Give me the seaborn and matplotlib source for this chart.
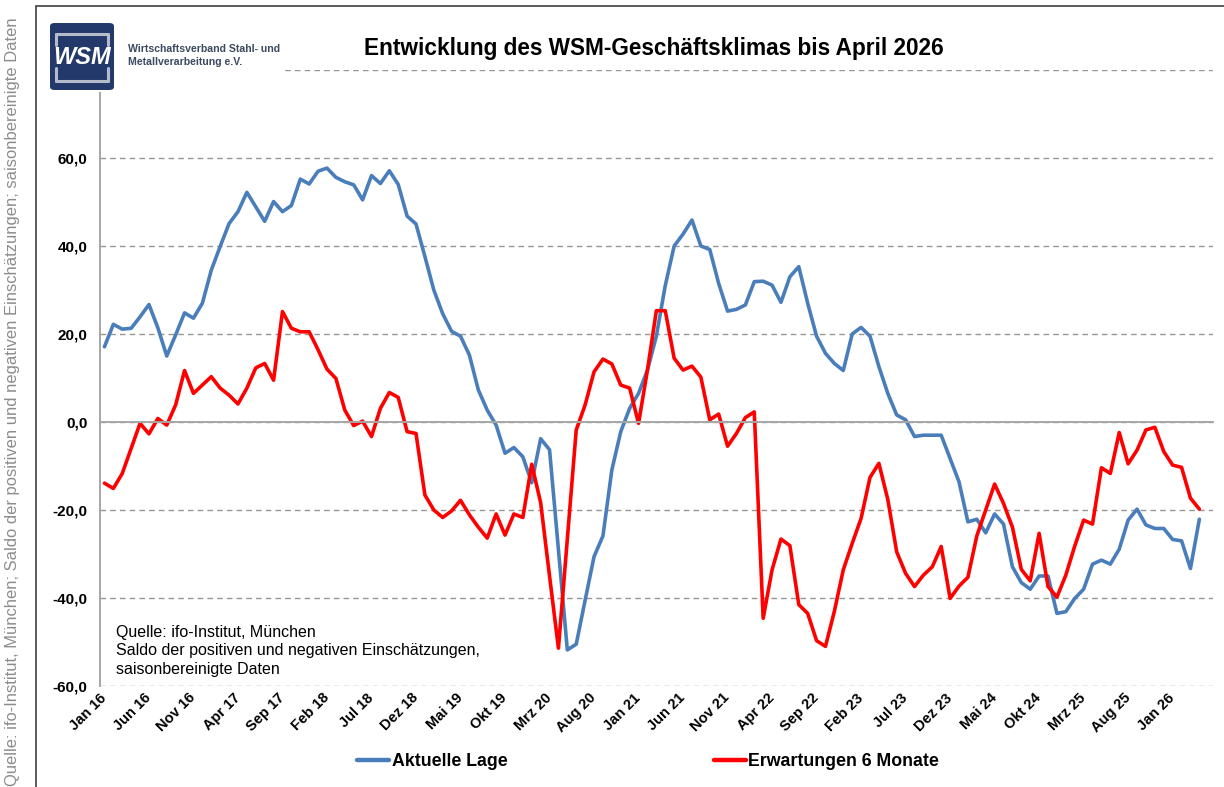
import numpy as np
import pandas as pd
import matplotlib
matplotlib.use("Agg")
import matplotlib.pyplot as plt
import seaborn as sns
from matplotlib import font_manager
from matplotlib.lines import Line2D
from matplotlib.patches import Rectangle, FancyBboxPatch
from matplotlib.ticker import FixedLocator, FuncFormatter

# Monatswerte Jan 2016 .. Apr 2026 (Saldo, saisonbereinigt)
aktuelle_lage = [
    17.1, 22.2, 21.1, 21.3, 23.9, 26.7, 21.4, 15.0, 19.8, 24.8, 23.6, 27.0,
    34.5, 39.9, 45.1, 47.8, 52.2, 48.9, 45.6, 50.1, 47.8, 49.2, 55.2, 54.1,
    57.0, 57.7, 55.6, 54.6, 53.9, 50.5, 56.0, 54.2, 57.1, 54.0, 46.8, 45.0,
    37.6, 30.0, 24.6, 20.6, 19.5, 15.2, 7.3, 2.7, -0.7, -7.1, -5.8, -7.9,
    -13.8, -3.8, -6.3, -29.0, -51.8, -50.5, -40.5, -30.6, -25.9, -10.9, -2.2, 3.1,
    6.5, 11.8, 19.5, 31.0, 40.0, 42.7, 45.9, 40.0, 39.2, 31.5, 25.2, 25.6,
    26.6, 31.9, 32.0, 31.1, 27.2, 33.0, 35.3, 27.0, 19.5, 15.6, 13.3, 11.7,
    20.0, 21.5, 19.5, 12.6, 6.5, 1.6, 0.5, -3.3, -3.0, -3.0, -3.0, -8.3,
    -13.6, -22.7, -22.1, -25.2, -20.9, -23.2, -32.9, -36.5, -38.0, -35.0, -35.0, -43.5,
    -43.1, -40.1, -38.0, -32.3, -31.4, -32.3, -28.9, -22.3, -19.8, -23.4, -24.2, -24.2,
    -26.7, -27.0, -33.3, -22.1,
]
erwartungen = [
    -13.9, -15.1, -11.7, -6.0, -0.3, -2.7, 0.8, -0.7, 3.9, 11.7, 6.5, 8.4,
    10.3, 7.7, 6.1, 4.1, 7.7, 12.3, 13.3, 9.5, 25.1, 21.3, 20.5, 20.5,
    16.4, 12.0, 9.9, 2.7, -0.8, 0.2, -3.3, 3.1, 6.7, 5.6, -2.2, -2.6,
    -16.6, -20.0, -21.7, -20.2, -17.8, -21.1, -23.9, -26.4, -20.9, -25.7, -20.9, -21.7,
    -9.6, -18.3, -35.0, -51.4, -26.6, -1.8, 3.9, 11.4, 14.3, 13.2, 8.4, 7.7,
    -0.3, 11.8, 25.3, 25.3, 14.5, 11.8, 12.7, 10.2, 0.5, 1.8, -5.5, -2.6,
    1.0, 2.3, -44.6, -33.6, -26.6, -28.1, -41.5, -43.5, -49.7, -51.0, -43.0, -33.6,
    -27.6, -21.9, -12.6, -9.4, -17.6, -29.5, -34.4, -37.4, -34.8, -32.9, -28.3, -40.1,
    -37.3, -35.3, -25.9, -20.0, -14.1, -18.5, -23.9, -33.5, -36.1, -25.3, -37.4, -39.8,
    -34.8, -28.2, -22.3, -23.2, -10.4, -11.7, -2.4, -9.5, -6.4, -1.8, -1.2, -6.7,
    -9.8, -10.3, -17.3, -19.8,
]
tick_labels = [
    "Jan 16", "Jun 16", "Nov 16", "Apr 17", "Sep 17", "Feb 18", "Jul 18",
    "Dez 18", "Mai 19", "Okt 19", "Mrz 20", "Aug 20", "Jan 21", "Jun 21",
    "Nov 21", "Apr 22", "Sep 22", "Feb 23", "Jul 23", "Dez 23", "Mai 24",
    "Okt 24", "Mrz 25", "Aug 25", "Jan 26",
]
series_names = ["Aktuelle Lage", "Erwartungen 6 Monate"]
y_ticks = [-60, -40, -20, 0, 20, 40, 60, 80]

BLUE = "#4a7ebb"
RED = "#ff0000"
AXIS_GREY = "#a6a6a6"
GRID_GREY = "#969696"

W, H = 1224, 787

sns.set_style("white")
plt.rcParams["font.family"] = ["Liberation Sans", "DejaVu Sans"]
plt.rcParams["text.color"] = "black"

n = len(aktuelle_lage)
df = pd.DataFrame({"monat": np.arange(n),
                   series_names[0]: aktuelle_lage,
                   series_names[1]: erwartungen})
df_long = df.melt(id_vars="monat", var_name="serie", value_name="saldo")

fig = plt.figure(figsize=(W / 100, H / 100), dpi=100)
ax = fig.add_axes([100 / W, 1 - 686 / H, (1212.7 - 100) / W, (686 - 70) / H])

sns.lineplot(data=df_long, x="monat", y="saldo", hue="serie",
             palette={series_names[0]: BLUE, series_names[1]: RED},
             linewidth=2.6, legend=False, ax=ax)

ax.set_xlim(-0.5, n + 0.5)
ax.set_ylim(y_ticks[0], y_ticks[-1])
ax.set_xlabel("")
ax.set_ylabel("")

# y axis (top label 80 sits behind the logo in the original, so leave it blank)
ax.yaxis.set_major_locator(FixedLocator(y_ticks))
ax.yaxis.set_major_formatter(FuncFormatter(
    lambda v, p: "" if v >= y_ticks[-1] else f"{v:.1f}".replace(".", ",")))
ax.tick_params(axis="y", length=5, width=1.2, color=AXIS_GREY, pad=4,
               labelsize=11, labelcolor="black")
for lab in ax.get_yticklabels():
    lab.set_fontweight("bold")
ax.yaxis.grid(True, color=GRID_GREY, linestyle=(0, (4, 3)), linewidth=1.0)
ax.xaxis.grid(False)

for s in ["top", "right"]:
    ax.spines[s].set_visible(False)
ax.spines["left"].set_color(AXIS_GREY)
ax.spines["left"].set_linewidth(1.4)
ax.spines["bottom"].set_position(("data", 0))
ax.spines["bottom"].set_color(AXIS_GREY)
ax.spines["bottom"].set_linewidth(1.4)

# tick marks on the zero line between categories
ax.xaxis.set_major_locator(FixedLocator(np.arange(-0.5, n + 1, 5)))
ax.set_xticklabels([])
ax.tick_params(axis="x", length=5, width=1.2, color=AXIS_GREY, direction="out")

# month labels at the bottom
sec = ax.secondary_xaxis("bottom")
sec.set_xticks(np.arange(0, n, 5), labels=tick_labels)
sec.spines["bottom"].set_visible(False)
sec.tick_params(length=0, pad=7, labelsize=10.5, labelcolor="black")
for lab in sec.get_xticklabels():
    lab.set_rotation(45)
    lab.set_ha("right")
    lab.set_va("center")
    lab.set_rotation_mode("anchor")
    lab.set_fontweight("bold")

# source note inside the plot
fig.text(116 / W, 1 - 625 / H,
         "Quelle: ifo-Institut, München\n"
         "Saldo der positiven und negativen Einschätzungen,\n"
         "saisonbereinigte Daten",
         fontsize=11.5, va="top", ha="left", linespacing=1.28)

# title
fig.text(654 / W, 1 - 48 / H, "Entwicklung des WSM-Geschäftsklimas bis April 2026",
         fontsize=16.3, fontweight="bold", ha="center", va="center")

# legend
handles = [Line2D([], [], color=BLUE, lw=3.2), Line2D([], [], color=RED, lw=3.2)]
fig.legend(handles, series_names, loc="center left",
           bbox_to_anchor=(357 / W, 1 - 762 / H), ncol=2, frameon=False,
           handlelength=1.8, handletextpad=0.15, columnspacing=11.6,
           borderpad=0, borderaxespad=0,
           prop={"weight": "bold", "size": 12.8})

# logo block
fig.patches.append(Rectangle((38 / W, 1 - 92 / H), (285 - 38) / W, (92 - 9) / H,
                             transform=fig.transFigure, facecolor="white",
                             edgecolor="none", zorder=5))
fig.patches.append(FancyBboxPatch((50 / W, 1 - 90 / H), 64 / W, 67 / H,
                                  boxstyle="round,pad=0,rounding_size=0.004",
                                  transform=fig.transFigure, facecolor="#24396b",
                                  edgecolor="none", zorder=6))
frame_col = "#b4bccb"
for (x0, y0, x1, y1) in [(56, 33.5, 108, 33.5), (56, 33.5, 56, 45), (108, 33.5, 108, 45),
                         (56, 81, 108, 81), (56, 68, 56, 81), (108, 68, 108, 81)]:
    fig.lines.append(Line2D([x0 / W, x1 / W], [1 - y0 / H, 1 - y1 / H],
                            transform=fig.transFigure, color=frame_col, lw=2.2,
                            zorder=7))
fig.text(82 / W, 1 - 57 / H, "WSM", color="white", fontsize=17, fontstyle="italic",
         fontweight="bold", ha="center", va="center", zorder=8)
clip_rect = Rectangle((120 / W, 0), (285 - 120) / W, 1, transform=fig.transFigure)
t = fig.text(128 / W, 1 - 55.5 / H, "Wirtschaftsverband Stahl- und\nMetallverarbeitung e.V.",
             color="#3b4a60", fontsize=7.6, fontweight="bold", ha="left", va="center",
             linespacing=1.35, zorder=8)
t.set_clip_path(clip_rect)

# outer chart frame
fig.patches.append(Rectangle((36 / W, -0.05), 2, 1.05 - 6.5 / H,
                             transform=fig.transFigure, fill=False,
                             edgecolor="#404040", linewidth=1.2, zorder=9))

# rotated source text on the left margin
names = {f.name for f in font_manager.fontManager.ttflist}
side_font = "Liberation Sans Narrow" if "Liberation Sans Narrow" in names else "Liberation Sans"
side_size = 14.5 if side_font == "Liberation Sans Narrow" else 11.9
fig.text(13 / W, 1 - 402 / H,
         "Quelle: ifo-Institut, München; Saldo der positiven und negativen "
         "Einschätzungen; saisonbereinigte Daten",
         rotation=90, color="#8c8c8c", fontsize=side_size, family=side_font,
         ha="center", va="center")

fig.savefig("out.png", dpi=100, facecolor="white")
